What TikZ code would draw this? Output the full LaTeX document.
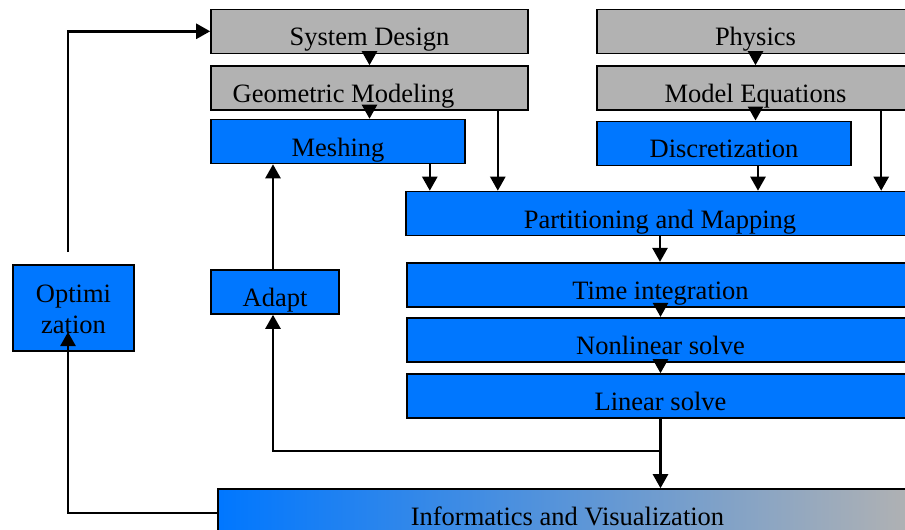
\documentclass[tikz,border=0pt]{standalone}
\usepackage{fontspec}
\setmainfont{Liberation Serif}
\usetikzlibrary{arrows.meta}
\definecolor{boxblue}{RGB}{0,119,255}
\definecolor{boxgray}{RGB}{178,178,178}
\begin{document}
\begin{tikzpicture}[x=1pt,y=-1pt,
  box/.style={draw=black, line width=1.6pt, inner sep=0pt, text height=29pt, text depth=0pt,
              font=\fontsize{26.5}{31}\selectfont},
  graybox/.style={box, fill=boxgray},
  bluebox/.style={box, fill=boxblue},
  arr/.style={line width=2.5pt, -{Triangle[length=14pt,width=15pt]}}]
\useasboundingbox (0,0) rectangle (905,530);
\clip (0,0) rectangle (905,530);
% boxes
\node[graybox, minimum width=317pt, minimum height=44pt] (SD) at (369.5,31.3) {System Design};
\node[graybox, minimum width=317pt, minimum height=44pt] (GM) at (369.5,88) {\hspace*{-52pt}Geometric Modeling};
\node[bluebox, minimum width=254pt, minimum height=44pt] (Mesh) at (338,141.5) {Meshing};
\node[graybox, minimum width=317pt, minimum height=44pt] (Phys) at (755.5,31.3) {Physics};
\node[graybox, minimum width=317pt, minimum height=44pt] (ME) at (755.5,88) {Model Equations};
\node[bluebox, minimum width=254pt, minimum height=44pt] (Disc) at (724,143.3) {Discretization};
\node[bluebox, minimum width=508pt, minimum height=44pt] (PM) at (660,213.5) {Partitioning and Mapping};
\node[bluebox, minimum width=507pt, minimum height=44pt] (TI) at (660.5,284.7) {Time integration};
\node[bluebox, minimum width=507pt, minimum height=44pt] (NL) at (660.5,339.7) {Nonlinear solve};
\node[bluebox, minimum width=507pt, minimum height=44pt] (LS) at (660.5,396) {Linear solve};
\node[box, left color=boxblue, right color=boxgray, minimum width=699pt, minimum height=44pt] (Info) at (567.5,511) {Informatics and Visualization};
\node[bluebox, minimum width=128pt, minimum height=44pt] (Adapt) at (275,292) {Adapt};
\node[bluebox, minimum width=121pt, minimum height=86pt, text height=20pt, text depth=32pt] (Opt) at (73.5,308)
  {\begin{tabular}[t]{@{}c@{}}Optimi\\zation\end{tabular}};
% connectors
\draw[arr] (SD.south) -- (GM.north);
\draw[arr] (GM.south) -- (GM.south |- Mesh.north);
\coordinate (mR) at ([xshift=-36pt]Mesh.south east);
\draw[arr] (mR) -- (mR |- PM.north);
\coordinate (gR) at ([xshift=-31pt]GM.south east);
\draw[arr] (gR) -- (gR |- PM.north);
\draw[arr] (Phys.south) -- (ME.north);
\draw[arr] (ME.south) -- (ME.south |- Disc.north);
\coordinate (dR) at ([xshift=34pt]Disc.south);
\draw[arr] (dR) -- (dR |- PM.north);
\coordinate (eR) at ([xshift=285pt]ME.south west);
\draw[arr] (eR) -- (eR |- PM.north);
\draw[arr] (PM.south) -- (PM.south |- TI.north);
\draw[arr] (TI.south) -- (NL.north);
\draw[arr] (NL.south) -- (LS.north);
\draw[arr] (LS.south) -- (LS.south |- Info.north);
\coordinate (br) at ([yshift=-32pt]LS.south);
\coordinate (aB) at ([xshift=-2pt]Adapt.south);
\draw[arr] (br) -| (aB);
\coordinate (aT) at ([xshift=-2pt]Adapt.north);
\draw[arr] (aT) -- (aT |- Mesh.south);
\coordinate (oT) at ([xshift=-5.5pt,yshift=12pt]Opt.north);
\draw[arr] (oT) |- (SD.west);
\coordinate (oI) at ([xshift=-5.5pt,yshift=-24pt]Opt.center);
\coordinate (iW) at ([yshift=-2pt]Info.west);
\draw[arr] (iW) -| (oI);
\end{tikzpicture}
\end{document}
